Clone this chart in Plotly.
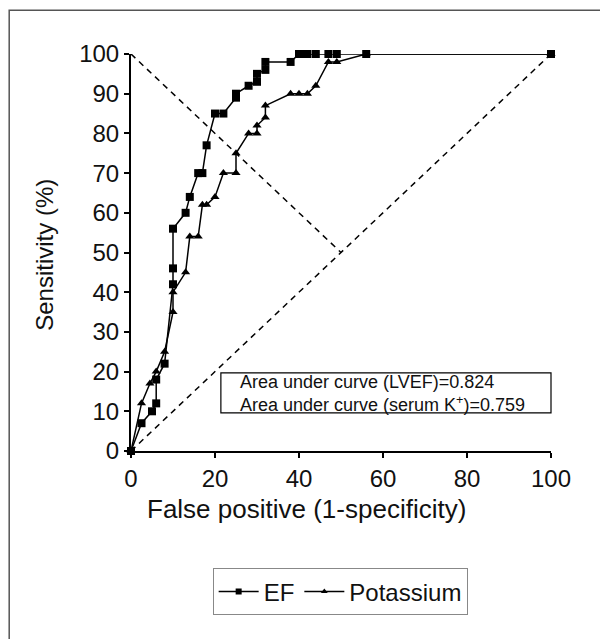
import plotly.graph_objects as go

# EF (LVEF) ROC curve points
ef_x = [0, 2.5, 5, 6, 6, 8, 10, 10, 10, 13, 14, 16, 17, 18, 20, 22, 25, 25, 28, 30, 30, 32, 32, 38, 40, 41, 42, 44, 47, 49, 56, 100]
ef_y = [0, 7, 10, 12, 18, 22, 42, 46, 56, 60, 64, 70, 70, 77, 85, 85, 89, 90, 92, 93, 95, 96, 98, 98, 100, 100, 100, 100, 100, 100, 100, 100]

# Potassium ROC curve points
k_x = [0, 2.5, 4.5, 6, 8, 10, 10, 13, 14, 16, 17, 18, 20, 22, 25, 25, 28, 30, 30, 32, 32, 38, 40, 42, 44, 47, 49, 56, 100]
k_y = [0, 12, 17, 20, 25, 35, 40, 45, 54, 54, 62, 62, 64, 70, 70, 75, 80, 80, 82, 84, 87, 90, 90, 90, 92, 98, 98, 100, 100]

# reference lines
diag_x = [0, 100]
diag_y = [0, 100]
anti_x = [0, 50]
anti_y = [100, 50]

x_ticks = [0, 20, 40, 60, 80, 100]
y_ticks = [0, 10, 20, 30, 40, 50, 60, 70, 80, 90, 100]

x_title = "False positive (1-specificity)"
y_title = "Sensitivity (%)"
auc_lines = ["Area under curve (LVEF)=0.824", "Area under curve (serum K<sup>+</sup>)=0.759"]

FONT = "Liberation Sans, Arial, sans-serif"

fig = go.Figure()
fig.add_trace(go.Scatter(x=diag_x, y=diag_y, mode="lines", showlegend=False,
                         line=dict(color="black", width=1.5, dash="6px,5px"), hoverinfo="skip"))
fig.add_trace(go.Scatter(x=anti_x, y=anti_y, mode="lines", showlegend=False,
                         line=dict(color="black", width=1.5, dash="6px,5px"), hoverinfo="skip"))
fig.add_trace(go.Scatter(x=ef_x, y=ef_y, mode="lines+markers", name="EF", showlegend=False,
                         line=dict(color="black", width=1.5),
                         marker=dict(symbol="square", size=8, color="black"),
                         cliponaxis=False))
fig.add_trace(go.Scatter(x=k_x, y=k_y, mode="lines+markers", name="Potassium", showlegend=False,
                         line=dict(color="black", width=1.5),
                         marker=dict(symbol="triangle-up", size=8, color="black"),
                         cliponaxis=False))
# legend entries (smaller markers as in the reference legend)
fig.add_trace(go.Scatter(x=[None], y=[None], mode="lines+markers", name="EF",
                         line=dict(color="black", width=1.5),
                         marker=dict(symbol="square", size=6, color="black")))
fig.add_trace(go.Scatter(x=[None], y=[None], mode="lines+markers", name="Potassium",
                         line=dict(color="black", width=1.5),
                         marker=dict(symbol="triangle-up", size=6, color="black")))

axis_common = dict(showgrid=False, zeroline=False, showline=True, linecolor="black", linewidth=2,
                   ticks="outside", ticklen=5, tickwidth=2, tickcolor="black",
                   tickfont=dict(family=FONT, size=24, color="#111"))

fig.update_xaxes(range=[0, 100], tickvals=x_ticks, **axis_common)
fig.update_yaxes(range=[0, 100], tickvals=y_ticks, **axis_common)

shapes = [
    # outer frame
    dict(type="rect", xref="paper", yref="paper", x0=-0.29, x1=1.6, y0=-1.0, y1=1.11,
         line=dict(color="#555", width=1.5), fillcolor="rgba(0,0,0,0)", layer="below"),
    # AUC box
    dict(type="rect", xref="paper", yref="paper", x0=0.214, x1=1.0, y0=0.096, y1=0.197,
         line=dict(color="black", width=1.2), fillcolor="white", layer="above"),
]
fig.update_layout(shapes=shapes)
fig.add_annotation(xref="paper", yref="paper", x=0.255, y=0.145, xanchor="left", yanchor="middle",
                   text="<br>".join(auc_lines), showarrow=False, align="left",
                   font=dict(family=FONT, size=18, color="#111"))
# axis titles
fig.add_annotation(xref="paper", yref="paper", x=0.417, y=-0.147, xanchor="center", yanchor="middle",
                   text=x_title, showarrow=False, font=dict(family=FONT, size=26, color="#111"))
fig.add_annotation(xref="paper", yref="paper", x=-0.205, y=0.494, xanchor="center", yanchor="middle",
                   text=y_title, textangle=-90, showarrow=False, font=dict(family=FONT, size=24, color="#111"))

fig.update_layout(
    width=608, height=639,
    margin=dict(l=123, r=65, t=46, b=196),
    paper_bgcolor="white", plot_bgcolor="white",
    legend=dict(orientation="h", x=0.498, y=-0.355, xanchor="center", yanchor="middle",
                bordercolor="#888", borderwidth=1, font=dict(family=FONT, size=24, color="#111"),
                itemwidth=40),
)

fig.write_html("out.html")
